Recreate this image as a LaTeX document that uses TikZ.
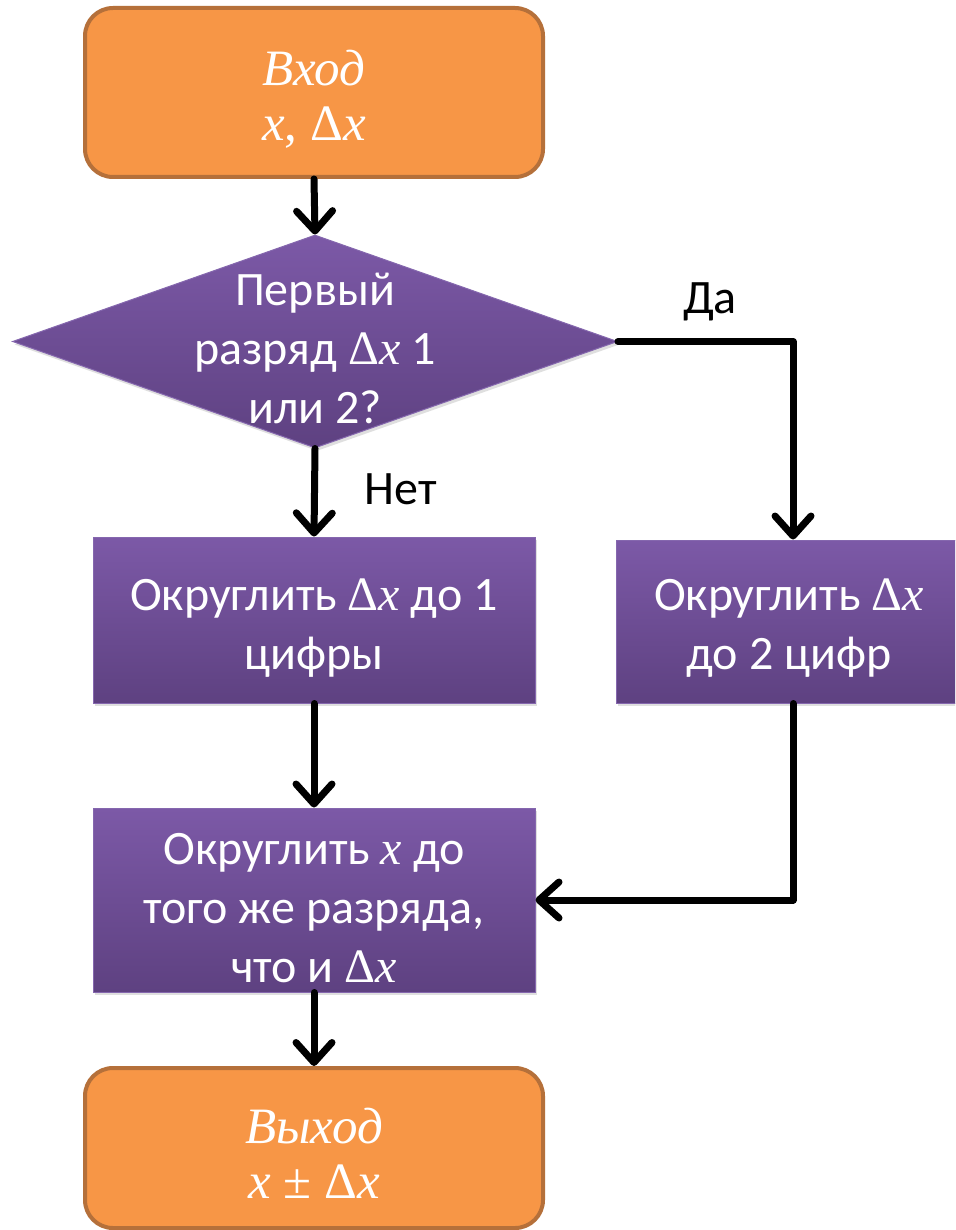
\documentclass[tikz,border=0pt]{standalone}
\usepackage{fontspec}
\setmainfont{Carlito}
\newfontfamily\seriffam{Liberation Serif}
\usetikzlibrary{arrows.meta,shapes.geometric,shadows}
\definecolor{orfill}{HTML}{F79646}
\definecolor{orline}{HTML}{B5703A}
\definecolor{purtop}{HTML}{7C59A7}
\definecolor{purbot}{HTML}{5E4181}
\definecolor{purline}{HTML}{8567AE}
\newcommand{\varx}{{\seriffam\itshape x}}
\newcommand{\dvarx}{{\seriffam Δ}\varx}
\tikzset{
  txt/.style={font=\fontsize{48}{59}\selectfont, align=center, text=white},
  termbox/.style={draw=orline, line width=4pt, fill=orfill, rounded corners=28pt,
    inner sep=0pt},
  termtxt/.style={font=\fontsize{51}{55}\selectfont\seriffam, text=white, align=center},
  procbox/.style={draw=purline, line width=1pt, top color=purtop, bottom color=purbot,
    inner sep=0pt, drop shadow={opacity=0.25, shadow xshift=2pt, shadow yshift=-3pt}},
  flow/.style={line width=7pt, draw=black, line cap=round, line join=round,
    -{Straight Barb[length=20pt, width=36pt, round]}},
  lbl/.style={font=\fontsize{48}{58}\selectfont, text=black}
}
\begin{document}
\begin{tikzpicture}[x=1pt, y=-1pt]
\fill[white] (0,0) rectangle (955,1230);
\useasboundingbox (0,0) rectangle (955,1230);
\begin{scope}
\clip (0,0) rectangle (955,1230);
% start
\node[termbox, minimum width=458pt, minimum height=169pt] (start) at (314,92.5) {};
\node[termtxt] (starttxt) at (314,99) {\itshape Вход\\ \varx, Δ\varx};
% decision
\node[procbox, diamond, aspect=2.84, minimum width=605pt, minimum height=213pt] (dec) at (315,341.5) {};
\node[txt] (dectxt) at (315,348) {Первый\\разряд \dvarx{} 1\\или 2?};
% box1
\node[procbox, minimum width=442pt, minimum height=166pt] (b1) at (314,620) {};
\node[txt] (b1txt) at (314,628) {Округлить \dvarx{} до 1\\цифры};
% box2
\node[procbox, minimum width=354pt, minimum height=163pt] (b2) at (793,621.5) {};
\node[txt] (b2txt) at (789,628) {Округлить \dvarx\\до 2 цифр};
% box3
\node[procbox, minimum width=442pt, minimum height=184pt] (b3) at (314,900) {};
\node[txt] (b3txt) at (314,908) {Округлить \varx{} до\\того же разряда,\\что и \dvarx};
% end
\node[termbox, minimum width=458pt, minimum height=160pt] (end) at (314,1148) {};
\node[termtxt] (endtxt) at (314,1153) {\itshape Выход\\ \varx{} ± Δ\varx};
% connectors
\draw[flow] (start.south) -- (dec.north);
\draw[flow] (dec.south) -- (b1.north);
\draw[flow] (dec.east) -| (b2.north);
\draw[flow] (b1.south) -- (b3.north);
\draw[flow] (b2.south) |- (b3.east);
\draw[flow] (b3.south) -- (end.north);
% labels
\node[lbl] (yes) at (710,302) {Да};
\node[lbl] (no) at (401,489) {Нет};
\end{scope}
\end{tikzpicture}
\end{document}
